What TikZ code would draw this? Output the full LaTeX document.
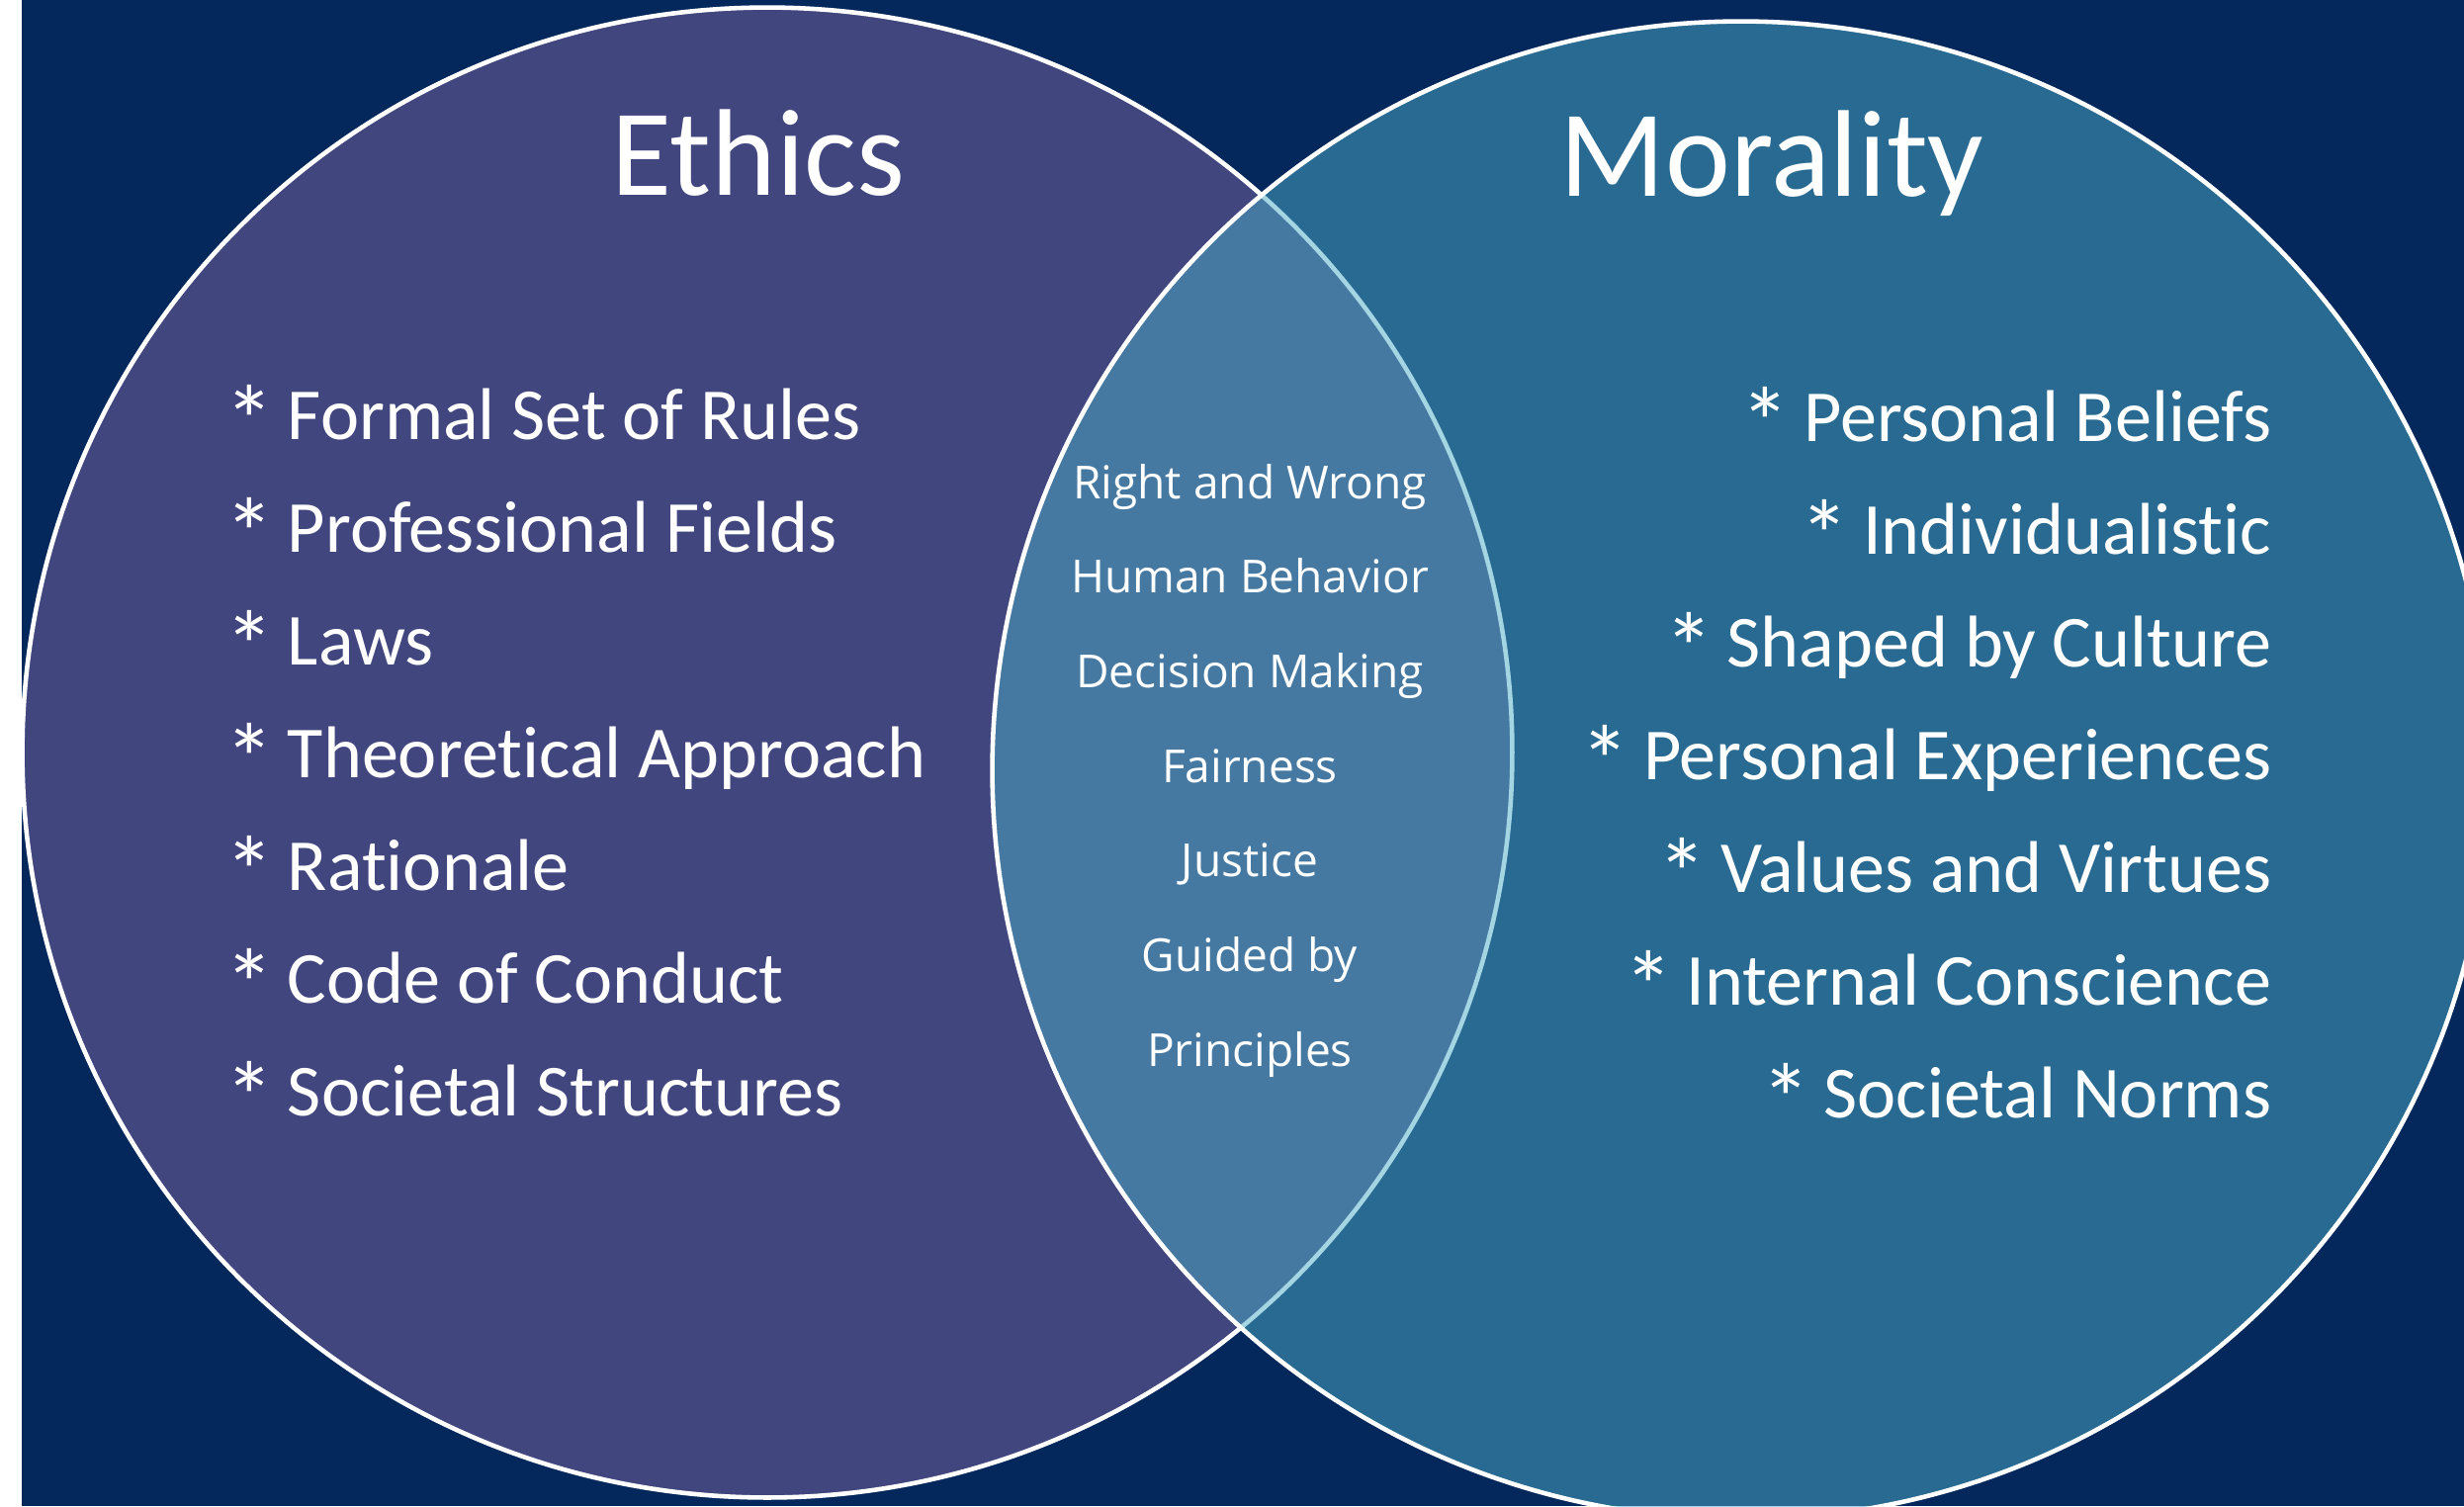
\documentclass[tikz,border=0pt]{standalone}
\usepackage{graphicx}
\usepackage{fontspec}
\setmainfont[Ligatures=NoCommon]{Carlito}
\newfontfamily\midfont{Open Sans}

\definecolor{navy}{RGB}{5,40,92}
\definecolor{ethicsfill}{RGB}{128,100,162}
\definecolor{moralfill}{RGB}{75,172,198}

% a larger, lowered bullet star followed by a slightly tighter space
\newcommand{\itemstar}{\raisebox{-0.22em}{\scalebox{1.35}{*}}\hspace{0.18em}}

\tikzset{
  setcircle/.style={draw=white, line width=1.3pt, fill opacity=0.5},
  titletext/.style={text=white, inner sep=0pt, anchor=base,
    font=\fontsize{35.5}{40}\selectfont},
  itemtext/.style={text=white, inner sep=0pt,
    font=\fontsize{21.1}{24}\selectfont},
  sharedtext/.style={text=white, inner sep=0pt, anchor=base,
    font=\midfont\fontsize{13.1}{16}\selectfont},
}

\begin{document}
\begin{tikzpicture}[x=0.01cm, y=-0.01cm]
  \useasboundingbox (0,0) rectangle (2492,1523);
  \clip (0,0) rectangle (2492,1523);

  % page background with a thin white margin on the left
  \fill[white] (0,0) rectangle (22,1523);
  \fill[navy] (22,0) rectangle (2492,1523);

  % the two overlapping sets
  \path[setcircle, fill=ethicsfill] (776,761) circle[radius=7.53cm];
  \path[setcircle, fill=moralfill] (1761,779) circle[radius=7.57cm];

  % titles
  \node[titletext] (ethics) at (767,197) {Ethics};
  \node[titletext] (morality) at (1792,198) {Morality};

  % ethics only
  \foreach \t [count=\i] in {Formal Set of Rules, Professional Fields, Laws,
      Theoretical Approach, Rationale, Code of Conduct, Societal Structures}
    \node[itemtext, anchor=base west] (eth\i) at (227,{444+114*(\i-1)}) {\itemstar\t};

  % morality only
  \foreach \t [count=\i] in {Personal Beliefs, Individualistic, Shaped by Culture,
      Personal Experiences, Values and Virtues, Internal Conscience, Societal Norms}
    \node[itemtext, anchor=base east] (mor\i) at (2298,{446+114*(\i-1)}) {\itemstar\t};

  % shared by both
  \foreach \t [count=\i] in {Right and Wrong, Human Behavior, Decision Making,
      Fairness, Justice, Guided by, Principles}
    \node[sharedtext] (both\i) at (1264,{504+95.7*(\i-1)}) {\t};
\end{tikzpicture}
\end{document}
